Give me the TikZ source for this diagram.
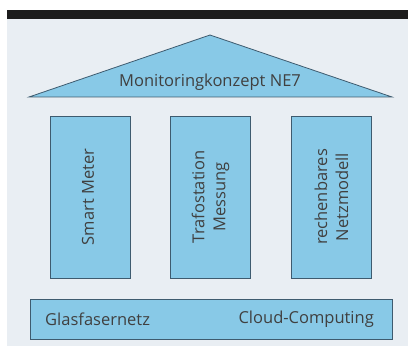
\documentclass[tikz,border=0pt]{standalone}
\usepackage{fontspec}
\setmainfont{Open Sans}
\definecolor{pillarblue}{HTML}{88C9E7}
\definecolor{edgeblue}{HTML}{3E5B6F}
\definecolor{panelgray}{HTML}{E9EEF3}
\definecolor{bargray}{HTML}{1C1C1C}
\tikzset{
  part/.style={draw=edgeblue, fill=pillarblue, line width=0.8pt},
  pillar/.style={part, minimum width=80pt, minimum height=162pt, inner sep=0pt},
  lbl/.style={font=\fontsize{16.5}{21}\selectfont, text=black!75, align=center, inner sep=0pt}
}
\begin{document}
\begin{tikzpicture}[x=1pt, y=-1pt]
		\useasboundingbox (0,0) rectangle (408,353);
		\fill[panelgray] (7,18) rectangle (408,346);
		\fill[bargray] (7,10) rectangle (408,19);
		% roof
		\coordinate (apex) at (210,35);
		\coordinate (roofl) at (29,97);
		\coordinate (roofr) at (392,97);
		\draw[part] (roofl) -- (apex) -- (roofr) -- cycle;
		\node[lbl] (roof) at (210,82) {Monitoringkonzept NE7};
		% pillars
		\node[pillar] (smart) at (90,197) {};
		\node[pillar] (trafo) at (210.5,197) {};
		\node[pillar] (netz) at (331.5,197) {};
		\node[lbl, rotate=90] (smarttext) at (88,197) {Smart Meter};
		\node[lbl, rotate=90] (trafotext) at (trafo) {Trafostation\\Messung};
		\node[lbl, rotate=90] (netztext) at (netz) {rechenbares\\Netzmodell};
		% base
		\node[part, minimum width=362pt, minimum height=40pt, inner sep=0pt] (base) at (211,319) {};
		\node[lbl, anchor=west] (glas) at (45,319) {Glasfasernetz};
		\node[lbl, anchor=east] (cloud) at (374,319) {Cloud-Computing};
\end{tikzpicture}
\end{document}
